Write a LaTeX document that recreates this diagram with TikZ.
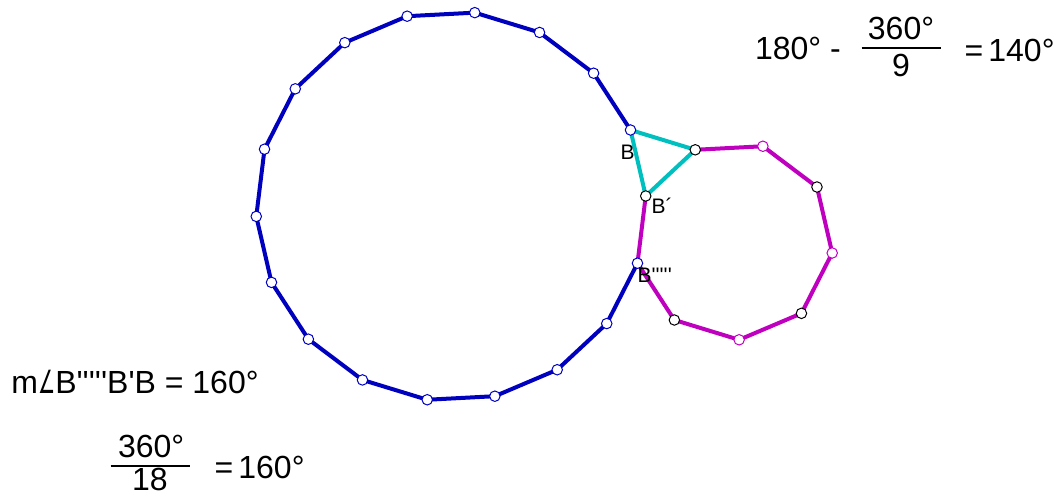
\documentclass[tikz,border=0pt]{standalone}
\usepackage{fontspec}
\setmainfont{Liberation Sans}
\newfontfamily\djv{DejaVu Sans}
\newcommand\sq{\textquotesingle}
\definecolor{pblue}{RGB}{0,0,191}
\definecolor{pmag}{RGB}{191,0,191}
\definecolor{pcyan}{RGB}{0,191,191}
\tikzset{
  edge/.style={line width=4pt, line join=round, line cap=round},
  vpt/.style={circle, draw=#1, fill=white, line width=1pt, minimum size=10.5pt, inner sep=0pt},
  big/.style={font=\fontsize{32}{38}\selectfont, inner sep=0pt},
  lab/.style={font=\fontsize{21}{25}\selectfont, inner sep=0pt},
  fracbar/.style={line width=2pt},
}
\begin{document}
\begin{tikzpicture}[x=1pt,y=-1pt]
\useasboundingbox (0,0) rectangle (1063,497);
% 18-gon vertices
\foreach \k in {0,...,17}
  \coordinate (P\k) at ({451+195*cos(3+20*\k)},{206.2-195*sin(3+20*\k)});
% 9-gon vertices
\foreach \k in {1,...,7}
  \coordinate (Q\k) at ({733.94+99*cos(153-40*\k)},{240.93-99*sin(153-40*\k)});
% edges
\draw[edge,pblue] (P17) \foreach \k in {16,...,1}{ -- (P\k)};
\draw[edge,pmag] (Q1) \foreach \k in {2,...,7}{ -- (Q\k)} -- (P17) -- (P0);
\draw[edge,pcyan] (P1) -- (P0) -- (Q1) -- cycle;
% points
\foreach \k in {1,...,17} \node[vpt=pblue] (p\k) at (P\k) {};
\node[vpt=black] (p0) at (P0) {};
\node[vpt=black] (q1) at (Q1) {};
\foreach \k in {2,4,6} \node[vpt=pmag] (q\k) at (Q\k) {};
\foreach \k in {3,5,7} \node[vpt=black] (q\k) at (Q\k) {};
% vertex labels
\node[lab,anchor=base] (lB) at (627.5,160) {B};
\node[lab,anchor=base west] (lBp) at (651.5,214) {B´};
\node[lab,anchor=base west] (lBq) at (637.5,282) {B\sq\sq\sq\sq\sq};
% top formula
\node[big,anchor=base west] (t1) at (754.8,59.3) {180° -};
\node[big,anchor=base] (t2) at (901,39.3) {360°};
\node[big,anchor=base] (t3) at (901,76.5) {9};
\coordinate (b1l) at (861.7,48.3);
\coordinate (b1r) at (940.7,48.3);
\draw[fracbar] (b1l) -- (b1r);
\node[big,anchor=base] (t4) at (974,61.7) {=};
\node[big,anchor=base west] (t5) at (988.2,61.7) {140°};
% angle measure
\node[big,anchor=base west] (m1) at (11.2,393.3) {m{\djv\scalebox{0.6}[1]{∠}}B\sq\sq\sq\sq\sq B\sq B = 160°};
% bottom formula
\node[big,anchor=base] (f1) at (151.2,457.3) {360°};
\node[big,anchor=base] (f2) at (150,490.5) {18};
\coordinate (b2l) at (110.7,465.7);
\coordinate (b2r) at (190,465.7);
\draw[fracbar] (b2l) -- (b2r);
\node[big,anchor=base] (f3) at (224,478.3) {=};
\node[big,anchor=base west] (f4) at (238.2,478.3) {160°};
\end{tikzpicture}
\end{document}
